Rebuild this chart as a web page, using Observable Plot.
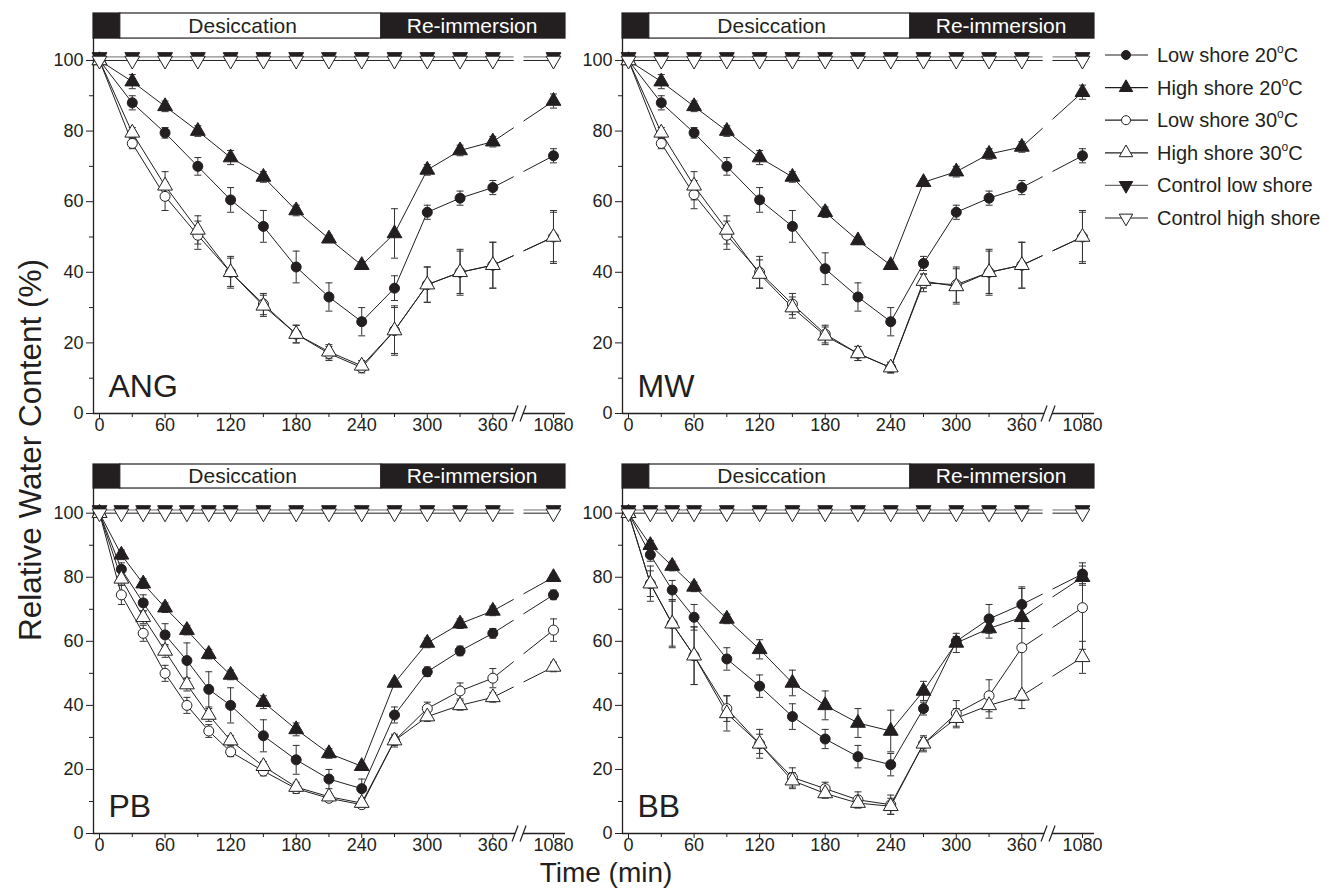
<!DOCTYPE html>
<html><head><meta charset="utf-8">
<script src="https://cdn.jsdelivr.net/npm/d3@7"></script>
<script src="https://cdn.jsdelivr.net/npm/@observablehq/plot@0.6"></script>
<style>
body{margin:0;background:#fff;font-family:"Liberation Sans",Arial,sans-serif;color:#231f20;}
#root{position:relative;width:1326px;height:890px;overflow:hidden;background:#fff;}
.panel{position:absolute;}
.ytitle{position:absolute;left:30px;top:450px;transform:translate(-50%,-50%) rotate(-90deg);font-size:31.5px;white-space:nowrap;}
.xtitle{position:absolute;left:606px;top:873px;transform:translate(-50%,-50%);font-size:28px;line-height:1;white-space:nowrap;}
</style></head><body><div id="root"></div><script>
// ---- time points ----
const timesA = [0,30,60,90,120,150,180,210,240,270,300,330,360,1080];           // ANG, MW
const timesPB = [0,20,40,60,80,100,120,150,180,210,240,270,300,330,360,1080];
const timesBB = [0,20,40,60,90,120,150,180,210,240,270,300,330,360,1080];
const xTicks = [0,60,120,180,240,300,360,1080];
const xMinor = [30,90,150,210,270,330];
const yTicks = [0,20,40,60,80,100];
const yMinor = [10,30,50,70,90];

// ---- ANG ----
const angL20 = [100,88,79.5,70,60.5,53,41.5,33,26,35.5,57,61,64,73];
const angH20 = [100,94,87,80,72.5,67,57.5,49.5,42,51,69,74.5,77,88.5];
const angL30 = [100,76.5,61.5,50.5,40,31,22.5,17,13,23.5,36.5,40,42,50];
const angH30 = [100,79.5,64.5,52,40,30.5,22.5,17.5,13.5,23.5,36.5,40,42,50];
const angL20e = [0,2,1.5,2.5,3.5,4.5,4.5,4,4,3.5,2,2,2,2];
const angH20e = [0,2,1.5,1.5,2,1.5,1.5,1,1,7,1.5,1.5,1.5,2];
const angL30e = [0,1.5,4,4,4.5,3,2.5,2,1.5,7,5,6.5,6.5,7.5];
const angH30e = [0,1.5,4,4,4,3,2.5,2,1.5,6.5,5,6,6.5,7];
const angCL = [101,101,101,101,101,101,101,101,101,101,101,101,101,101];
const angCH = [100,100,100,100,100,100,100,100,100,100,100,100,100,100];

// ---- MW ----
const mwL20 = [100,88,79.5,70,60.5,53,41,33,26,42.5,57,61,64,73];
const mwH20 = [100,94,87,80,72.5,67,57,49,42,65.5,68.5,73.5,75.5,91];
const mwL30 = [100,76.5,62,50.5,40,31,22.5,17,13,37,36.5,40,42,50];
const mwH30 = [100,79.5,64.5,52,39.5,30,22,17,13,37.5,36,40,42,50];
const mwL20e = [0,2,1.5,2.5,3.5,4.5,4.5,4,4,2,2,2,2,2];
const mwH20e = [0,2,1.5,1.5,2,1.5,1.5,1,1,1,1.5,1.5,1.5,2];
const mwL30e = [0,1.5,4,4,4.5,3,2.5,2,1.5,2.5,5,6.5,6.5,7.5];
const mwH30e = [0,1.5,4,4,4,3,2.5,2,1.5,2,5,6,6.5,7];
const mwCL = [101,101,101,101,101,101,101,101,101,101,101,101,101,101];
const mwCH = [100,100,100,100,100,100,100,100,100,100,100,100,100,100];

// ---- PB ----
const pbL20 = [100,82.5,72,62,54,45,40,30.5,23,17,14,37,50.5,57,62.5,74.5];
const pbH20 = [100,87,78,70.5,63.5,56,49.5,41,32.5,25,21,47,59.5,65.5,69.5,80];
const pbL30 = [100,74.5,62.5,50,40,32,25.5,19.5,14,11,9,29,39,44.5,48.5,63.5];
const pbH30 = [100,79.5,67.5,57,46.5,37,29,21,14.5,11.5,9.5,29,36.5,40,42.5,52];
const pbL20e = [0,2,2.5,3.5,5.5,5.5,5.5,5,4.5,3,3,2.5,1.5,1.5,1.5,1.5];
const pbH20e = [0,1.5,1.5,1.5,1.5,1.5,1.5,2,2,1.5,1,1,1.5,1.5,1.5,1];
const pbL30e = [0,3,2.5,2.5,2.5,2,1.5,1.5,1.5,1,1,1.5,2,2.5,3,3.5];
const pbH30e = [0,2,2,2,2,2,1.5,1.5,1.5,1,1,2,1.5,1.5,1.5,1.5];
const pbCL = [101,101,101,101,101,101,101,101,101,101,101,101,101,101,101,101];
const pbCH = [100,100,100,100,100,100,100,100,100,100,100,100,100,100,100,100];

// ---- BB ----
const bbL20 = [100,87,76,67.5,54.5,46,36.5,29.5,24,21.5,39,60,67,71.5,81];
const bbH20 = [100,90,83.5,77,67,57.5,47,40,34.5,32,44.5,59.5,64,67.5,80];
const bbL30 = [100,78,65.5,55.5,39,28,17.5,14,10.5,9,28,37.5,43,58,70.5];
const bbH30 = [100,78,65.5,55.5,37.5,28,16.5,12.5,9.5,8.5,28,36,40,43,55];
const bbL20e = [0,2,3,4,3.5,3.5,4,3,3.5,3.5,2,1.5,4.5,5,3.5];
const bbH20e = [0,1.5,1.5,1.5,1.5,3,4,4.5,4.5,6.5,3,3,3,3.5,2];
const bbL30e = [0,5.5,7.5,9,4,4.5,3,2,2.5,3,2,4,5,19,13];
const bbH30e = [0,4,7,9,5.5,3,2.5,1.5,1.5,2.5,2.5,3,4,1.5,5];
const bbCL = [101,101,101,101,101,101,101,101,101,101,101,101,101,101,101];
const bbCH = [100,100,100,100,100,100,100,100,100,100,100,100,100,100,100];

// ---- phases (top bar) ----
const phaseStart = [-5.5, 19, 258];
const phaseEnd = [19, 258, 426.5];
const phaseFill = ["#231f20", "#ffffff", "#231f20"];
const phaseLabel = ["", "Desiccation", "Re-immersion"];
const phaseLabelX = [0, 131, 341];
const phaseLabelColor = ["#fff", "#231f20", "#ffffff"];

const legendLabels = ["Low shore 20", "High shore 20", "Low shore 30", "High shore 30", "Control low shore", "Control high shore"];
const legendDeg = [true, true, true, true, false, false];

// ---- geometry ----
const INK = "#231f20";
const ML = 50, MT = 6, MB = 34;
const W = 530;
const X_MIN = -5.5, X_MAX = 426.5, X_1080 = 415.5, BREAK_AT = 384;
// axis break: 1080 min is drawn just after 360 min
const xv = t => t === 1080 ? X_1080 : t;

const triDown = {draw(ctx, size){ const s3 = Math.sqrt(3); const y = -Math.sqrt(size/(s3*3)); ctx.moveTo(0,-2*y); ctx.lineTo(-s3*y, y); ctx.lineTo(s3*y, y); ctx.closePath(); }};
const capSym = {draw(ctx){ ctx.moveTo(-3.5,0); ctx.lineTo(3.5,0); }};
const slashSym = {draw(ctx){ ctx.moveTo(-7,8); ctx.lineTo(-1,-8); ctx.moveTo(1,8); ctx.lineTo(7,-8); }};
const gapSym = {draw(ctx){ ctx.moveTo(-7,8); ctx.lineTo(-1,-8); ctx.lineTo(7,-8); ctx.lineTo(1,8); ctx.closePath(); }};

const seriesStyle = {
  L20: {symbol: "circle", fill: INK, r: 5},
  H20: {symbol: "triangle", fill: INK, r: 5.5},
  L30: {symbol: "circle", fill: "#fff", r: 5},
  H30: {symbol: "triangle", fill: "#fff", r: 5.5},
  CL: {symbol: triDown, fill: INK, r: 5.5},
  CH: {symbol: triDown, fill: "#fff", r: 5.5}
};

function panel(name, times, L20, H20, L30, H30, eL20, eH20, eL30, eH30, CL, CH, left, row) {
  const PH = row.y0 - row.yTopPx;
  const H = MT + PH + MB;
  const rows = [];
  const ser = [["L20",L20,eL20],["H20",H20,eH20],["L30",L30,eL30],["H30",H30,eH30],["CL",CL,null],["CH",CH,null]];
  for (const [s, vals, errs] of ser) times.forEach((t,i) => rows.push({s, t, v: vals[i], e: errs ? errs[i] : 0}));
  const errRows = rows.filter(d => d.e > 0);
  const phases = phaseStart.map((x1,i) => ({x1, x2: phaseEnd[i], fill: phaseFill[i], label: phaseLabel[i], tx: phaseLabelX[i], tc: phaseLabelColor[i]}));
  const yTop = row.top, barLo = row.lo;
  const marks = [
    Plot.rect(phases, {x1: "x1", x2: "x2", y1: barLo, y2: yTop, fill: "fill", stroke: INK, strokeWidth: 1.2}),
    Plot.text(phases.filter(p => p.label), {x: "tx", y: (barLo+yTop)/2, text: "label", fill: "tc", fontSize: 21}),
    Plot.ruleY([0], {stroke: INK, strokeWidth: 1.3}),
    Plot.ruleX([X_MIN], {y1: 0, y2: barLo, stroke: INK, strokeWidth: 1.3}),
    Plot.axisX(xTicks.map(xv), {tickSize: 5, tickPadding: 0, fontSize: 18, label: null, color: INK, tickFormat: d => d === X_1080 ? "1080" : String(d)}),
    Plot.axisX(xMinor, {tickSize: 4, label: null, color: INK, tickFormat: () => ""}),
    Plot.axisY(yTicks, {tickSize: 7, tickPadding: 3, fontSize: 18, label: null, color: INK}),
    Plot.axisY(yMinor, {tickSize: 4, label: null, color: INK, tickFormat: () => ""})
  ];
  for (const s of ["L20","H20","L30","H30","CL","CH"]) {
    marks.push(Plot.line(rows.filter(d => d.s === s), {x: d => xv(d.t), y: "v", stroke: s === "CL" ? "#6d6d6d" : INK, strokeWidth: 1}));
  }
  marks.push(
    Plot.rect([BREAK_AT], {x1: d => d - 4.5, x2: d => d + 4.5, y1: 2, y2: 105, fill: "#fff"}),
    Plot.dot([BREAK_AT], {x: d => d, y: 0, symbol: gapSym, fill: "#fff", stroke: "none", r: 5}),
    Plot.dot([BREAK_AT], {x: d => d, y: 0, symbol: slashSym, fill: "none", stroke: INK, strokeWidth: 1.2, r: 5}),
    Plot.ruleX(errRows, {x: d => xv(d.t), y1: d => d.v - d.e, y2: d => d.v + d.e, stroke: "#333", strokeWidth: 1}),
    Plot.dot(errRows, {x: d => xv(d.t), y: d => d.v + d.e, symbol: capSym, stroke: "#333", fill: "none", strokeWidth: 1, r: 3}),
    Plot.dot(errRows, {x: d => xv(d.t), y: d => d.v - d.e, symbol: capSym, stroke: "#333", fill: "none", strokeWidth: 1, r: 3})
  );
  for (const s of ["L20","H20","L30","H30","CL","CH"]) {
    const st = seriesStyle[s];
    marks.push(Plot.dot(rows.filter(d => d.s === s), {x: d => xv(d.t), y: "v", symbol: st.symbol, r: st.r, fill: st.fill, stroke: INK, strokeWidth: 1}));
  }
  marks.push(Plot.text([name], {frameAnchor: "bottom-left", dx: 15, dy: -17, text: d => d, fontSize: 32, fill: INK, textAnchor: "start", lineAnchor: "bottom"}));

  const chart = Plot.plot({
    width: W, height: H,
    marginLeft: ML, marginRight: W - ML - 472, marginTop: MT, marginBottom: MB,
    style: {fontFamily: '"Liberation Sans", Arial, sans-serif', background: "transparent", color: INK, overflow: "visible"},
    x: {domain: [X_MIN, X_MAX]},
    y: {domain: [0, yTop]},
    marks
  });
  chart.classList.add("panel");
  chart.style.left = left + "px";
  chart.style.top = (row.yTopPx - MT) + "px";
  document.getElementById("root").appendChild(chart);
}

// row geometry: pixel of y=0, pixel of bar top, bar top / bottom values
const topRow = {y0: 413, yTopPx: 13, top: 113.3, lo: 106.2};
const botRow = {y0: 833, yTopPx: 464, top: 115.2, lo: 107.7};

panel("ANG", timesA, angL20, angH20, angL30, angH30, angL20e, angH20e, angL30e, angH30e, angCL, angCH, 43, topRow);
panel("MW", timesA, mwL20, mwH20, mwL30, mwH30, mwL20e, mwH20e, mwL30e, mwH30e, mwCL, mwCH, 572, topRow);
panel("PB", timesPB, pbL20, pbH20, pbL30, pbH30, pbL20e, pbH20e, pbL30e, pbH30e, pbCL, pbCH, 43, botRow);
panel("BB", timesBB, bbL20, bbH20, bbL30, bbH30, bbL20e, bbH20e, bbL30e, bbH30e, bbCL, bbCH, 572, botRow);

// ---- legend ----
const root = d3.select("#root");
const leg = root.append("svg").attr("width", 231).attr("height", 220)
  .style("position", "absolute").style("left", "1095px").style("top", "37px")
  .style("font-family", '"Liberation Sans", Arial, sans-serif');
const legKeys = ["L20","H20","L30","H30","CL","CH"];
legKeys.forEach((k, i) => {
  const y = 18 + i * 32.6;
  const g = leg.append("g");
  g.append("line").attr("x1", 10).attr("x2", 53).attr("y1", y).attr("y2", y)
    .attr("stroke", k === "CL" ? "#6d6d6d" : INK).attr("stroke-width", 1.2);
  const st = seriesStyle[k];
  const symType = st.symbol === "circle" ? d3.symbolCircle : st.symbol === "triangle" ? d3.symbolTriangle : triDown;
  const rr = st.r - 0.5;
  g.append("path").attr("d", d3.symbol(symType, Math.PI * rr * rr)()).attr("transform", `translate(31,${y})`)
    .attr("fill", st.fill).attr("stroke", INK).attr("stroke-width", 1);
  const t = g.append("text").attr("x", 62).attr("y", y + 7).attr("font-size", 20).attr("fill", INK);
  t.append("tspan").text(legendLabels[i]);
  if (legendDeg[i]) {
    t.append("tspan").attr("dy", -9).attr("font-size", 12).text("o");
    t.append("tspan").attr("dy", 9).text("C");
  }
});

root.append("div").attr("class", "ytitle").text("Relative Water Content (%)");
root.append("div").attr("class", "xtitle").text("Time (min)");
</script></body></html>
